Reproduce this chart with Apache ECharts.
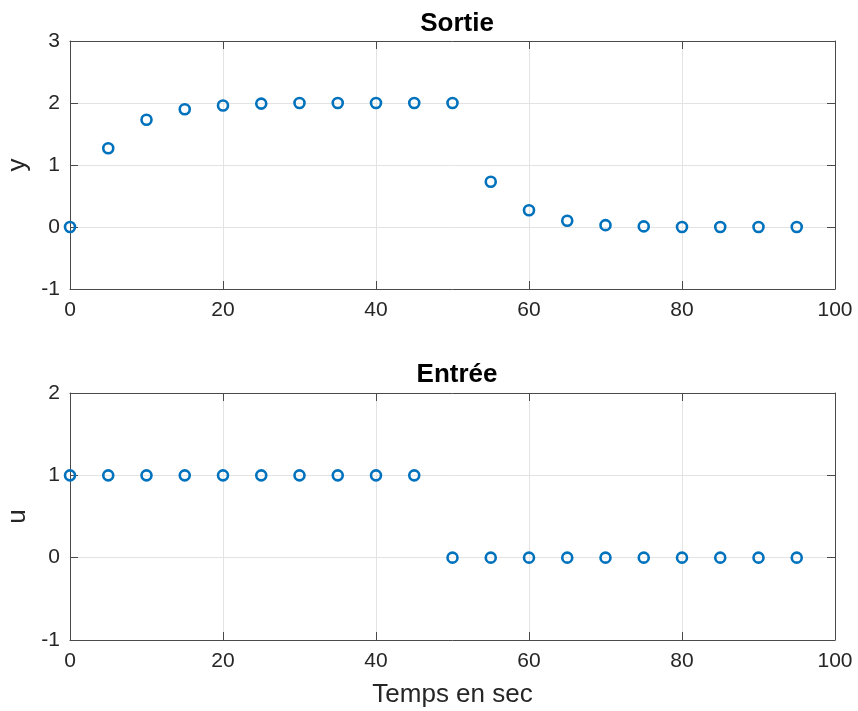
<!DOCTYPE html>
<html>
<head>
<meta charset="utf-8">
<script src="https://cdn.jsdelivr.net/npm/echarts@6/dist/echarts.min.js"></script>
<style>
html, body { margin: 0; padding: 0; background: #fff; }
#chart { width: 858px; height: 711px; }
</style>
</head>
<body>
<div id="chart"></div>
<script>
// temps (s)
var temps = [0, 5, 10, 15, 20, 25, 30, 35, 40, 45, 50, 55, 60, 65, 70, 75, 80, 85, 90, 95];
// sortie y
var sortie = [0, 1.27, 1.73, 1.90, 1.96, 1.99, 2.0, 2.0, 2.0, 2.0, 2.0, 0.73, 0.27, 0.10, 0.03, 0.01, 0, 0, 0, 0];
// entree u
var entree = [1, 1, 1, 1, 1, 1, 1, 1, 1, 1, 0, 0, 0, 0, 0, 0, 0, 0, 0, 0];

var font = 'Liberation Sans, Arial, sans-serif';
var txt = '#262626';
var axisCol = '#4a4a4a';
var gridCol = '#e3e3e3';

function pts(xs, ys) {
    return xs.map(function(x, i) { return [x, ys[i]]; });
}

// axe principal (bas / gauche)
function mainX(gi) {
    return {
        type: 'value', gridIndex: gi, min: 0, max: 100, interval: 20,
        position: 'bottom',
        name: gi === 1 ? 'Temps en sec' : '',
        nameLocation: 'middle', nameGap: 42,
        nameTextStyle: { fontFamily: font, fontSize: 26, color: txt },
        axisLine: { onZero: false, lineStyle: { color: axisCol, width: 1 } },
        axisTick: { inside: true, length: 8, lineStyle: { color: axisCol } },
        axisLabel: { fontFamily: font, fontSize: 21, color: txt, margin: 11 },
        splitLine: { show: true, lineStyle: { color: gridCol } }
    };
}
function mirrorX(gi) {
    return {
        type: 'value', gridIndex: gi, min: 0, max: 100, interval: 20,
        position: 'top',
        axisLine: { onZero: false, lineStyle: { color: axisCol, width: 1 } },
        axisTick: { inside: true, length: 8, lineStyle: { color: axisCol } },
        axisLabel: { show: false },
        splitLine: { show: false }
    };
}
function mainY(gi, min, max, name) {
    return {
        type: 'value', gridIndex: gi, min: min, max: max, interval: 1,
        position: 'left',
        name: name, nameLocation: 'middle', nameGap: 38, nameRotate: 90,
        nameTextStyle: { fontFamily: font, fontSize: 26, color: txt },
        axisLine: { show: true, onZero: false, lineStyle: { color: axisCol, width: 1 } },
        axisTick: { show: true, inside: true, length: 8, lineStyle: { color: axisCol } },
        axisLabel: { fontFamily: font, fontSize: 21, color: txt, margin: 10 },
        splitLine: { show: true, lineStyle: { color: gridCol } }
    };
}
function mirrorY(gi, min, max) {
    return {
        type: 'value', gridIndex: gi, min: min, max: max, interval: 1,
        position: 'right',
        axisLine: { show: true, onZero: false, lineStyle: { color: axisCol, width: 1 } },
        axisTick: { show: true, inside: true, length: 8, lineStyle: { color: axisCol } },
        axisLabel: { show: false },
        splitLine: { show: false }
    };
}

var marker = {
    symbol: 'circle', symbolSize: 10,
    itemStyle: { color: 'rgba(255,255,255,0)', borderColor: '#0072BD', borderWidth: 2.6, opacity: 1 }
};

var option = {
    backgroundColor: '#fff',
    animation: false,
    title: [
        { text: 'Sortie', left: 452, top: 6, textAlign: 'center',
          textStyle: { fontFamily: font, fontSize: 26, fontWeight: 'bold', color: '#000' } },
        { text: 'Entrée', left: 452, top: 357, textAlign: 'center',
          textStyle: { fontFamily: font, fontSize: 26, fontWeight: 'bold', color: '#000' } }
    ],
    grid: [
        { left: 70, top: 41, width: 765, height: 248, outerBoundsMode: 'none', containLabel: false },
        { left: 70, top: 393, width: 765, height: 247, outerBoundsMode: 'none', containLabel: false }
    ],
    xAxis: [mainX(0), mirrorX(0), mainX(1), mirrorX(1)],
    yAxis: [mainY(0, -1, 3, 'y'), mirrorY(0, -1, 3), mainY(1, -1, 2, 'u'), mirrorY(1, -1, 2)],
    series: [
        {
            name: 'Sortie', type: 'scatter', xAxisIndex: 0, yAxisIndex: 0,
            symbol: marker.symbol, symbolSize: marker.symbolSize, itemStyle: marker.itemStyle,
            data: pts(temps, sortie)
        },
        {
            name: 'Entrée', type: 'scatter', xAxisIndex: 2, yAxisIndex: 2,
            symbol: marker.symbol, symbolSize: marker.symbolSize, itemStyle: marker.itemStyle,
            data: pts(temps, entree)
        }
    ]
};

var chart = echarts.init(document.getElementById('chart'));
chart.setOption(option);
</script>
</body>
</html>
